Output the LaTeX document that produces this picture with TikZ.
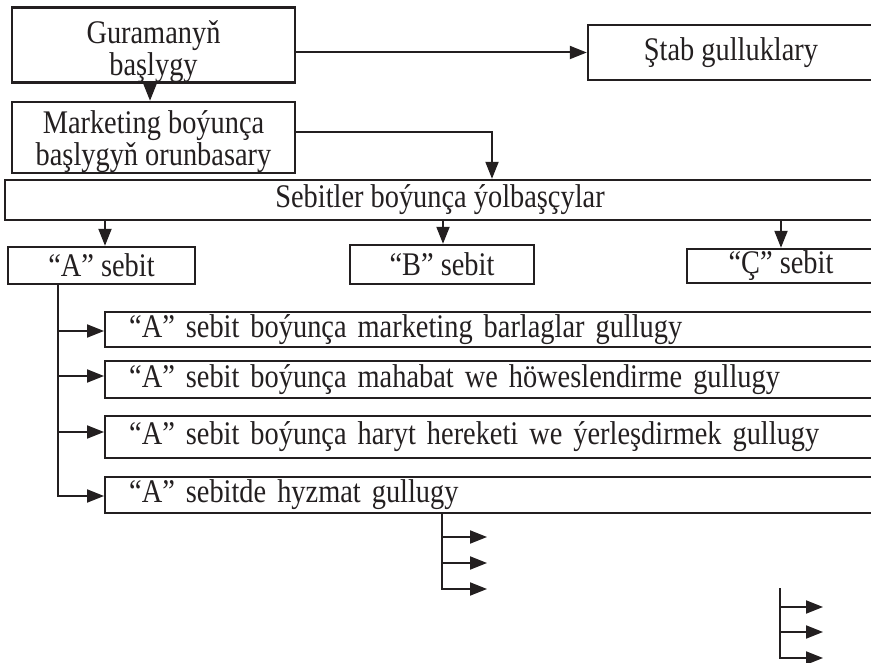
\documentclass[tikz,border=0pt]{standalone}
\usepackage{fontspec}
\setmainfont{Liberation Serif}[FakeStretch=0.86]
\usetikzlibrary{arrows.meta}
\definecolor{ink}{RGB}{35,31,32}
\begin{document}
\begin{tikzpicture}[x=1pt,y=-1pt,
  box/.style={draw=ink, line width=2.4pt, inner sep=0pt, text=ink, align=center,
    font=\fontsize{33}{32}\selectfont},
  lbox/.style={box, anchor=west, align=left, inner xsep=24pt, text width=723pt},
  conn/.style={draw=ink, line width=2pt},
  arr/.style={conn, -{Triangle[length=17pt,width=13pt]}}]
\useasboundingbox (0,0) rectangle (871,663);
\clip (0,0) rectangle (871,663);
\node[box, minimum width=283pt, minimum height=70pt] (g) at (153.5,45) {\rule{0pt}{36pt}Guramanyň\\başlygy};
\node[box, minimum width=283pt, minimum height=71pt] (m) at (153.5,137.5) {\rule{0pt}{32pt}Marketing boýunça\\başlygyň orunbasary};
\node[box, minimum width=286pt, minimum height=55pt] (s) at (731,52.5) {Ştab gulluklary};
\node[box, minimum width=870pt, minimum height=40pt] (y) at (440,200) {Sebitler boýunça ýolbaşçylar};
\node[box, minimum width=187pt, minimum height=37pt] (a) at (101.5,265.5) {“A” sebit};
\node[box, minimum width=184pt, minimum height=39pt] (b) at (442,264.5) {“B” sebit};
\node[box, minimum width=188pt, minimum height=34pt] (c) at (781,266) {“Ç” sebit};
\node[lbox, minimum height=35pt] (a1) at (104,329.5) {“A” sebit boýunça marketing barlaglar gullugy};
\node[lbox, minimum height=37pt] (a2) at (104,379.5) {“A” sebit boýunça mahabat we höweslendirme gullugy};
\node[lbox, minimum height=42pt] (a3) at (104,437) {“A” sebit boýunça haryt hereketi we ýerleşdirmek gullugy};
\node[lbox, minimum height=36pt] (a4) at (104,495) {“A” sebitde hyzmat gullugy};
% top connectors
\draw[arr] (g.east |- s.west) -- (s.west);
\draw[arr] (g.south -| 150,0) -- (m.north -| 150,0);
\draw[arr] (m.east |- 0,132) -| (492,0 |- y.north);
\draw[arr] (y.south -| 105,0) -- (a.north -| 105,0);
\draw[arr] (y.south -| 443,0) -- (b.north -| 443,0);
\draw[arr] (y.south -| 781,0) -- (c.north);
% A trunk
\coordinate (t1) at (58,331);
\coordinate (t2) at (58,376);
\coordinate (t3) at (58,432);
\draw[arr] (a.south -| 58,0) |- (a4.west |- 0,496);
\draw[arr] (t1) -- (a1.west |- t1);
\draw[arr] (t2) -- (a2.west |- t2);
\draw[arr] (t3) -- (a3.west |- t3);
% service trunk
\coordinate (v1) at (442,537);
\coordinate (v2) at (442,563);
\coordinate (u1) at (487,537);
\coordinate (u2) at (487,563);
\coordinate (u3) at (487,589);
\draw[arr] (a4.south -| 442,0) |- (u3);
\draw[arr] (v1) -- (u1);
\draw[arr] (v2) -- (u2);
% lower floating group
\coordinate (w0) at (780,588);
\coordinate (w1) at (780,607);
\coordinate (w2) at (780,632);
\coordinate (x1) at (823,607);
\coordinate (x2) at (823,632);
\coordinate (x3) at (823,658);
\draw[arr] (w0) |- (x3);
\draw[arr] (w1) -- (x1);
\draw[arr] (w2) -- (x2);
\end{tikzpicture}
\end{document}
